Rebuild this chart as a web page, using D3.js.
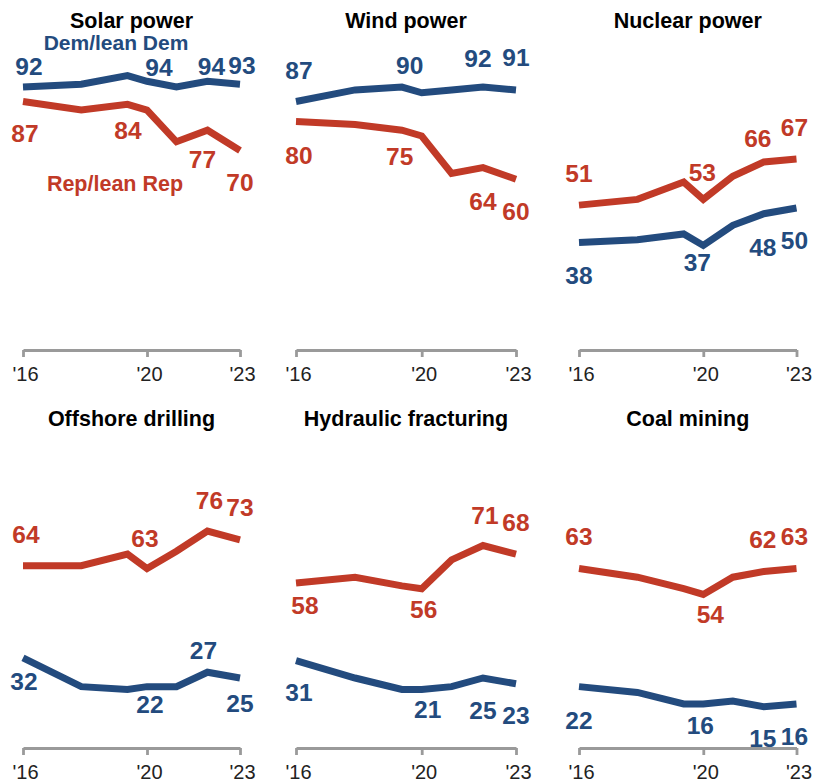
<!DOCTYPE html>
<html>
<head>
<meta charset="utf-8">
<script src="https://cdn.jsdelivr.net/npm/d3@7"></script>
<style>
  html, body { margin: 0; padding: 0; background: #fff; }
  svg { display: block; font-family: "Liberation Sans", Arial, sans-serif; }
</style>
</head>
<body>
<svg id="chart" width="817" height="784"></svg>
<script>
// ---------- DATA ----------
const topics = ["Solar power", "Wind power", "Nuclear power", "Offshore drilling", "Hydraulic fracturing", "Coal mining"];
const surveyYears = [2016, 2017.88, 2019.37, 2020, 2020.95, 2021.95, 2023];
const demSolar     = [92, 93, 96, 94, 92, 94, 93];
const repSolar     = [87, 84, 86, 84, 73, 77, 70];
const demWind      = [87, 91, 92, 90, 91, 92, 91];
const repWind      = [80, 79, 77, 75, 62, 64, 60];
const demNuclear   = [38, 39, 41, 37, 44, 48, 50];
const repNuclear   = [51, 53, 59, 53, 61, 66, 67];
const demOffshore  = [32, 22, 21, 22, 22, 27, 25];
const repOffshore  = [64, 64, 68, 63, 69, 76, 73];
const demFracking  = [31, 25, 21, 21, 22, 25, 23];
const repFracking  = [58, 60, 57, 56, 66, 71, 68];
const demCoal      = [22, 20, 16, 16, 17, 15, 16];
const repCoal      = [63, 60, 56, 54, 60, 62, 63];
const labeledIdx   = [0, 3, 5, 6];
const tickYears    = [2016, 2020, 2023];
const tickLabels   = ["'16", "'20", "'23"];
const seriesNames  = ["Dem/lean Dem", "Rep/lean Rep"];

// ---------- LAYOUT / STYLE ----------
const COLORS = { dem: "#234b7e", rep: "#c13a27" };
const colX = [[23, 240], [296, 516], [579, 796.5]];
const rowY = [[352, 64], [750, 462]];
// label offsets (px) for labeled points: [dx...], [dy...]
const labelOffsets = [
  { dem: { dx: [6, 12, 4, 2],   dy: [-12, -5.5, -6, -10] }, rep: { dx: [2, -19, -5, 0], dy: [41, 29, 38, 41] } },
  { dem: { dx: [3, -12, -5, 0], dy: [-22, -19, -20, -24] }, rep: { dx: [3, -22, 0, 0], dy: [42, 29, 42, 41] } },
  { dem: { dx: [0, -6, -1, -2], dy: [41, 26, 42, 41] },   rep: { dx: [0, -1, -6, -2], dy: [-23, -18, -15, -23] } },
  { dem: { dx: [1, 3, -4, 0],   dy: [32, 26, -13, 34] },  rep: { dx: [3, -2, 2, 0], dy: [-23, -22, -22, -24] } },
  { dem: { dx: [3, 6, 0, 0],    dy: [40, 28, 41, 40] },   rep: { dx: [9, 2, 2, 0], dy: [31, 29, -22, -23] } },
  { dem: { dx: [0, -3, -1, -2], dy: [42, 30, 40, 41] },   rep: { dx: [0, 7, -1, -2], dy: [-24, 29, -23, -24] } }
];

const panels = [
  { title: topics[0], dem: demSolar,    rep: repSolar },
  { title: topics[1], dem: demWind,     rep: repWind },
  { title: topics[2], dem: demNuclear,  rep: repNuclear },
  { title: topics[3], dem: demOffshore, rep: repOffshore },
  { title: topics[4], dem: demFracking, rep: repFracking },
  { title: topics[5], dem: demCoal,     rep: repCoal }
];

const svg = d3.select("#chart");

panels.forEach((p, i) => {
  const col = i % 3, row = Math.floor(i / 3);
  const x = d3.scaleLinear().domain([2016, 2023]).range(colX[col]);
  const y = d3.scaleLinear().domain([0, 100]).range(rowY[row]);
  const g = svg.append("g");

  // title
  g.append("text")
    .attr("x", (colX[col][0] + colX[col][1]) / 2)
    .attr("y", rowY[row][1] - 36)
    .attr("text-anchor", "middle")
    .attr("font-size", 21.5)
    .attr("font-weight", "bold")
    .attr("fill", "#000")
    .text(p.title);

  // axis
  const axisY = y(0) - 2;
  const axis = d3.axisBottom(x)
    .tickValues(tickYears)
    .tickFormat((d, k) => tickLabels[k])
    .tickSize(7)
    .tickSizeOuter(0)
    .tickPadding(10);
  const ag = g.append("g").attr("transform", `translate(0,${axisY})`).call(axis);
  ag.select(".domain").attr("stroke", "#9a9a9a").attr("stroke-width", 2.8);
  ag.selectAll(".tick line").attr("stroke", "#9a9a9a").attr("stroke-width", 2.8);
  ag.selectAll(".tick text")
    .attr("font-size", 20)
    .attr("fill", "#222")
    .attr("font-family", "\"Liberation Sans\", Arial, sans-serif")
    .attr("dx", 2);

  const line = d3.line().x((d, k) => x(surveyYears[k])).y(d => y(d));

  ["rep", "dem"].forEach(s => {
    g.append("path")
      .datum(p[s])
      .attr("d", line)
      .attr("fill", "none")
      .attr("stroke", COLORS[s])
      .attr("stroke-width", 7)
      .attr("stroke-linejoin", "miter")
      .attr("stroke-linecap", "butt");

    const off = labelOffsets[i][s];
    g.selectAll(null)
      .data(labeledIdx)
      .enter()
      .append("text")
      .attr("x", (idx, k) => x(surveyYears[idx]) + off.dx[k])
      .attr("y", (idx, k) => y(p[s][idx]) + off.dy[k])
      .attr("text-anchor", "middle")
      .attr("font-size", 24.5)
      .attr("font-weight", "bold")
      .attr("fill", COLORS[s])
      .text(idx => p[s][idx]);
  });

  if (i === 0) {
    g.append("text")
      .attr("x", 116).attr("y", y(p.dem[0]) - 37)
      .attr("text-anchor", "middle")
      .attr("font-size", 21).attr("font-weight", "bold")
      .attr("fill", COLORS.dem)
      .text(seriesNames[0]);
    g.append("text")
      .attr("x", 115).attr("y", y(p.rep[0]) + 90)
      .attr("text-anchor", "middle")
      .attr("font-size", 21.5).attr("font-weight", "bold")
      .attr("fill", COLORS.rep)
      .text(seriesNames[1]);
  }
});
</script>
</body>
</html>
